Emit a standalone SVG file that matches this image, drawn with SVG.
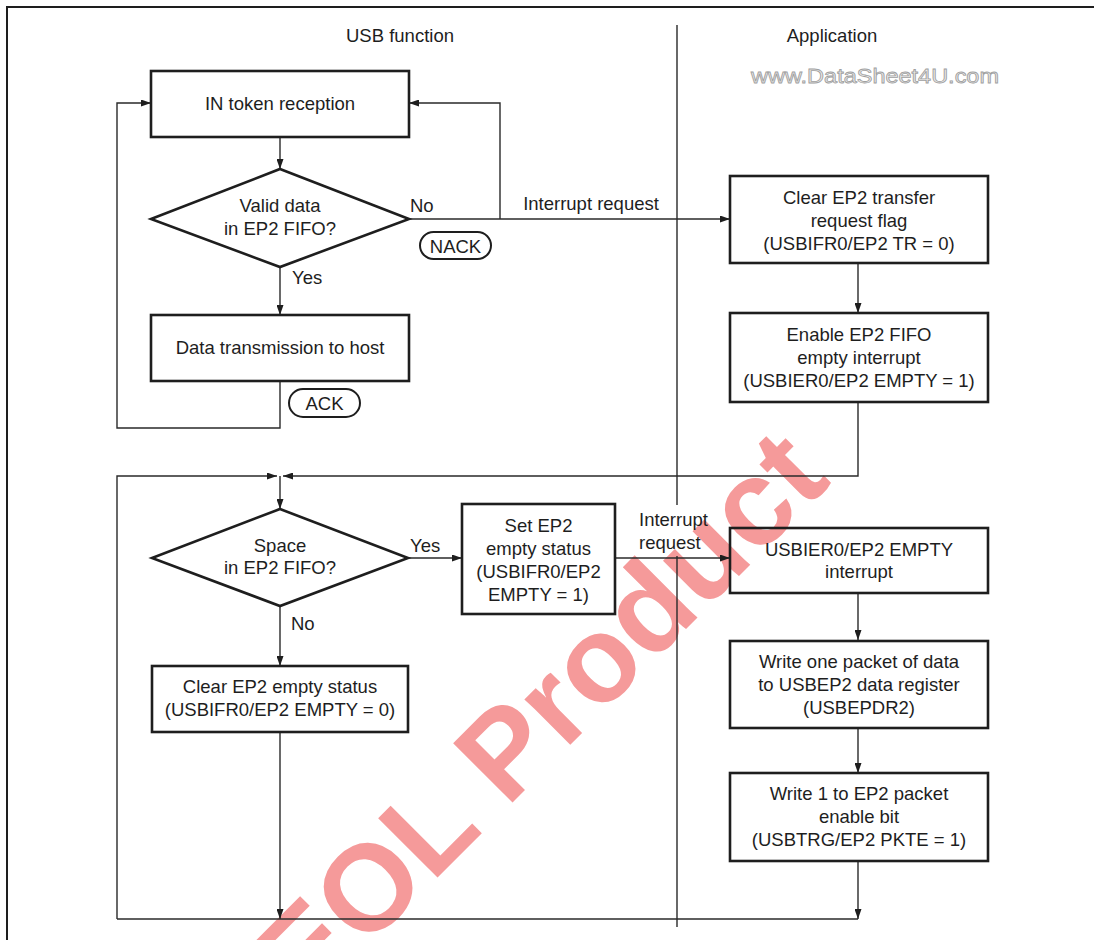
<svg xmlns="http://www.w3.org/2000/svg" width="1094" height="940" viewBox="0 0 1094 940">
<style>
text{font-family:"Liberation Sans",Arial,Helvetica,sans-serif;font-size:18.5px;fill:#1e1e1e}
.c{text-anchor:middle}
.box{fill:none;stroke:#1e1e1e;stroke-width:2.6}
.pill{fill:none;stroke:#1e1e1e;stroke-width:2}
.ln{fill:none;stroke:#2a2a2a;stroke-width:1.4}
.arr{marker-end:url(#ah)}
</style>
<defs>
<marker id="ah" markerUnits="userSpaceOnUse" markerWidth="10" markerHeight="7" refX="10" refY="3.5" orient="auto">
<path d="M0,0 L10,3.5 L0,7 z" fill="#1e1e1e"/>
</marker>
</defs>
<rect x="0" y="0" width="1094" height="940" fill="#fff"/>
<g id="watermark">
<text x="307" y="1008" transform="rotate(-45 307 1008)" style="font-size:122px;font-weight:bold;fill:#f59a9a">EOL Product</text>
<text x="751" y="83" textLength="248" lengthAdjust="spacingAndGlyphs" style="font-size:20px;fill:#ececec;stroke:#a0a0a0;stroke-width:0.8">www.DataSheet4U.com</text>
</g>
<g id="frame">
<path d="M7,940 V7 H1094" fill="none" stroke="#1e1e1e" stroke-width="2"/>
<path d="M677,25 V505 M677,556 V927" fill="none" stroke="#2a2a2a" stroke-width="1.4"/>
<text class="c" x="400" y="41.5">USB function</text>
<text class="c" x="832" y="41.5">Application</text>
</g>
<g id="connectors">
<path class="ln arr" d="M280,137 V169"/>
<path class="ln arr" d="M280,267 V315"/>
<path class="ln arr" d="M409,219 H730"/>
<path class="ln arr" d="M500,219 V103 H409"/>
<path class="ln arr" d="M280,381 V428 H117 V103 H151"/>
<path class="ln arr" d="M858,263 V313"/>
<path class="ln arr" d="M858,402 V476 H283"/>
<path class="ln arr" d="M117,919 V476 H277"/>
<path class="ln arr" d="M280,476 V509"/>
<path class="ln arr" d="M408,558 H462"/>
<path class="ln arr" d="M280,606 V666"/>
<path class="ln arr" d="M615,558 H730"/>
<path class="ln arr" d="M858,593 V640"/>
<path class="ln arr" d="M858,728 V773"/>
<path class="ln arr" d="M858,861 V919"/>
<path class="ln arr" d="M280,732 V919"/>
<path class="ln" d="M117,919 H858"/>
<text x="410" y="211.5">No</text>
<text x="292" y="283.5">Yes</text>
<text class="c" x="591" y="209.5">Interrupt request</text>
<text x="410" y="551.5">Yes</text>
<text x="291" y="629.5">No</text>
<text x="639" y="525.5">Interrupt</text>
<text x="639" y="548.5">request</text>
</g>
<g id="in_token">
<rect class="box" x="151" y="71" width="258" height="66"/>
<text class="c" x="280" y="110">IN token reception</text>
</g>
<g id="valid_data">
<polygon class="box" points="280,169 409,219 280,267 151,219"/>
<text class="c" x="280" y="211.5">Valid data</text>
<text class="c" x="280" y="234.5">in EP2 FIFO?</text>
</g>
<g id="nack">
<rect class="pill" x="420" y="232" width="71" height="27" rx="13.5"/>
<text class="c" x="455.5" y="252.5">NACK</text>
</g>
<g id="data_tx">
<rect class="box" x="151" y="315" width="258" height="66"/>
<text class="c" x="280" y="354">Data transmission to host</text>
</g>
<g id="ack">
<rect class="pill" x="289" y="389" width="71" height="28" rx="14"/>
<text class="c" x="324.5" y="409.5">ACK</text>
</g>
<g id="clear_tr">
<rect class="box" x="730" y="176" width="258" height="87"/>
<text class="c" x="859" y="203.5">Clear EP2 transfer</text>
<text class="c" x="859" y="226.5">request flag</text>
<text class="c" x="859" y="249.5">(USBIFR0/EP2 TR = 0)</text>
</g>
<g id="enable">
<rect class="box" x="730" y="313" width="258" height="89"/>
<text class="c" x="859" y="340.5">Enable EP2 FIFO</text>
<text class="c" x="859" y="363.5">empty interrupt</text>
<text class="c" x="859" y="386.5">(USBIER0/EP2 EMPTY = 1)</text>
</g>
<g id="space">
<polygon class="box" points="280,509 408,558 280,606 152,558"/>
<text class="c" x="280" y="551.5">Space</text>
<text class="c" x="280" y="573.5">in EP2 FIFO?</text>
</g>
<g id="set_empty">
<rect class="box" x="462" y="504" width="153" height="110"/>
<text class="c" x="538.5" y="531.5">Set EP2</text>
<text class="c" x="538.5" y="554.5">empty status</text>
<text class="c" x="538.5" y="577.5">(USBIFR0/EP2</text>
<text class="c" x="538.5" y="600.5">EMPTY = 1)</text>
</g>
<g id="clear_empty">
<rect class="box" x="152" y="666" width="256" height="66"/>
<text class="c" x="280" y="693">Clear EP2 empty status</text>
<text class="c" x="280" y="716">(USBIFR0/EP2 EMPTY = 0)</text>
</g>
<g id="usbier0">
<rect class="box" x="730" y="528" width="258" height="65"/>
<text class="c" x="859" y="555.5">USBIER0/EP2 EMPTY</text>
<text class="c" x="859" y="578">interrupt</text>
</g>
<g id="write_packet">
<rect class="box" x="730" y="641" width="258" height="87"/>
<text class="c" x="859" y="667.5">Write one packet of data</text>
<text class="c" x="859" y="690.5">to USBEP2 data register</text>
<text class="c" x="859" y="714">(USBEPDR2)</text>
</g>
<g id="write1">
<rect class="box" x="730" y="773" width="258" height="88"/>
<text class="c" x="859" y="799.5">Write 1 to EP2 packet</text>
<text class="c" x="859" y="823">enable bit</text>
<text class="c" x="859" y="845.5">(USBTRG/EP2 PKTE = 1)</text>
</g>
</svg>
